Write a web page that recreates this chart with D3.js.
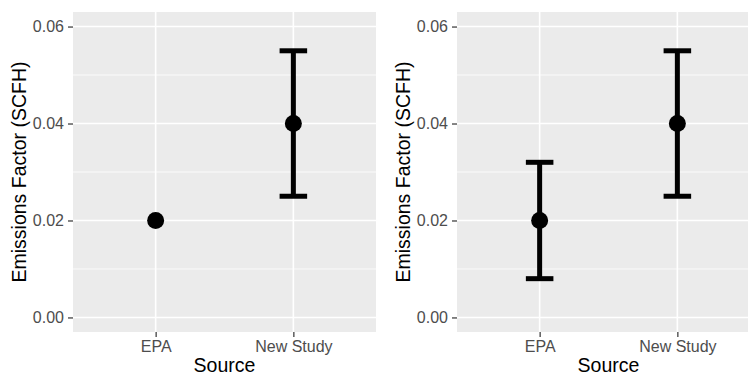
<!DOCTYPE html>
<html>
<head>
<meta charset="utf-8">
<script src="https://cdn.jsdelivr.net/npm/d3@7"></script>
<style>
  body { margin: 0; background: #fff; }
  svg { display: block; font-family: "Liberation Sans", Arial, sans-serif; }
</style>
</head>
<body>
<div id="chart"></div>
<script>
// data
var sources = ["EPA", "New Study"];
var yTicks = [0, 0.02, 0.04, 0.06];
var yMinor = [0.01, 0.03, 0.05];

var leftMean = [0.02, 0.04];
var leftLow = [null, 0.025];
var leftHigh = [null, 0.055];

var rightMean = [0.02, 0.04];
var rightLow = [0.008, 0.025];
var rightHigh = [0.032, 0.055];

var W = 748, H = 375;

var svg = d3.select("#chart").append("svg")
    .attr("width", W)
    .attr("height", H);

var y = d3.scaleLinear()
    .domain([-0.003, 0.063])
    .range([332, 12]);

function drawPanel(left, right, means, lows, highs) {
  var x = d3.scalePoint()
      .domain(sources)
      .range([left, right])
      .padding(0.6);
  var step = x.step();

  var g = svg.append("g");

  g.append("rect")
      .attr("x", left).attr("y", 12)
      .attr("width", right - left).attr("height", 320)
      .attr("fill", "#ebebeb");

  // minor grid
  g.selectAll(".minor").data(yMinor).enter().append("line")
      .attr("x1", left).attr("x2", right)
      .attr("y1", d => y(d)).attr("y2", d => y(d))
      .attr("stroke", "#fff").attr("stroke-width", 0.8);

  // major grid
  g.selectAll(".major").data(yTicks).enter().append("line")
      .attr("x1", left).attr("x2", right)
      .attr("y1", d => y(d)).attr("y2", d => y(d))
      .attr("stroke", "#fff").attr("stroke-width", 1.6);

  g.selectAll(".vgrid").data(sources).enter().append("line")
      .attr("x1", d => x(d)).attr("x2", d => x(d))
      .attr("y1", 12).attr("y2", 332)
      .attr("stroke", "#fff").attr("stroke-width", 1.6);

  // axes
  var yAxis = g.append("g")
      .attr("transform", "translate(" + left + ",0)")
      .call(d3.axisLeft(y).tickValues(yTicks).tickFormat(d3.format(".2f")).tickSize(5).tickPadding(4));
  var xAxis = g.append("g")
      .attr("transform", "translate(0,332)")
      .call(d3.axisBottom(x).tickSize(5).tickPadding(4));

  [yAxis, xAxis].forEach(function(a) {
    a.attr("font-size", null).attr("font-family", null);
    a.select(".domain").remove();
    a.selectAll(".tick line").attr("stroke", "#333").attr("stroke-width", 1.2);
    a.selectAll(".tick text")
        .attr("fill", "#4d4d4d")
        .style("font-size", "16px");
  });

  // error bars
  var bars = sources.map(function(s, i) {
    return { s: s, lo: lows[i], hi: highs[i] };
  }).filter(d => d.lo != null);

  var half = step * 0.1;
  var eb = g.selectAll(".eb").data(bars).enter().append("g");
  eb.append("line")
      .attr("x1", d => x(d.s)).attr("x2", d => x(d.s))
      .attr("y1", d => y(d.lo)).attr("y2", d => y(d.hi))
      .attr("stroke", "#000").attr("stroke-width", 5);
  eb.append("line")
      .attr("x1", d => x(d.s) - half).attr("x2", d => x(d.s) + half)
      .attr("y1", d => y(d.hi)).attr("y2", d => y(d.hi))
      .attr("stroke", "#000").attr("stroke-width", 5);
  eb.append("line")
      .attr("x1", d => x(d.s) - half).attr("x2", d => x(d.s) + half)
      .attr("y1", d => y(d.lo)).attr("y2", d => y(d.lo))
      .attr("stroke", "#000").attr("stroke-width", 5);

  // points
  g.selectAll(".pt").data(sources).enter().append("circle")
      .attr("cx", d => x(d))
      .attr("cy", (d, i) => y(means[i]))
      .attr("r", 8.5)
      .attr("fill", "#000");

  // titles
  g.append("text")
      .attr("x", (left + right) / 2)
      .attr("y", 372)
      .attr("text-anchor", "middle")
      .style("font-size", "19.5px")
      .text("Source");

  g.append("text")
      .attr("transform", "translate(" + (left - 47) + "," + 172 + ") rotate(-90)")
      .attr("text-anchor", "middle")
      .style("font-size", "19.5px")
      .text("Emissions Factor (SCFH)");
}

drawPanel(73, 376, leftMean, leftLow, leftHigh);
drawPanel(457, 760, rightMean, rightLow, rightHigh);
</script>
</body>
</html>
